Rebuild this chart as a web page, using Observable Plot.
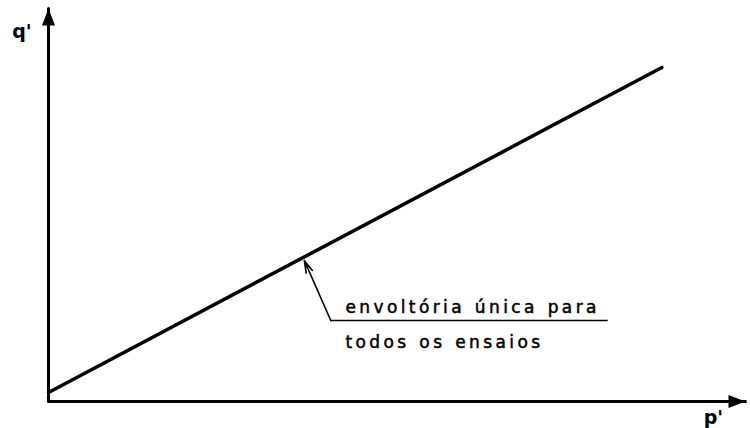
<!DOCTYPE html>
<html>
<head>
<meta charset="utf-8">
<script src="https://cdn.jsdelivr.net/npm/d3@7"></script>
<script src="https://cdn.jsdelivr.net/npm/@observablehq/plot@0.6"></script>
<style>
  html, body { margin: 0; padding: 0; background: #fff; }
  svg { display: block; }
  .ann-text text { letter-spacing: 3.4px; word-spacing: 1px; }
</style>
</head>
<body>
<div id="chart"></div>
<script>
// Axis extents (p', q' in arbitrary units)
const axisP = [0, 0, 100];
const axisQ = [100, 0, 0];

// Single failure envelope line
const envelopeP = [0, 88];
const envelopeQ = [2.3, 85];

// Annotation
const annotationLines = ["envoltória única para", "todos os ensaios"];
const annotationTailP = 40.5, annotationTailQ = 20.6;
const annotationHeadP = 36.7, annotationHeadQ = 35.9;
const underlineP = [40.5, 80.3];
const underlineQ = 20.6;
const textP = 42.6;
const textQ = [22.6, 13.7];

// Axis labels
const axisLabels = ["q'", "p'"];
const labelP = [-5.2, 94];
const labelQ = [92.6, -5.6];

const axisData = axisP.map((p, i) => ({p, q: axisQ[i]}));
const envData = envelopeP.map((p, i) => ({p, q: envelopeQ[i]}));
const textData = annotationLines.map((t, i) => ({t, p: textP, q: textQ[i]}));
const labelData = axisLabels.map((t, i) => ({t, p: labelP[i], q: labelQ[i]}));
const arrowTips = [
  {p: 0, q: 100, rotate: 0},
  {p: 100, q: 0, rotate: 90}
];

// narrow filled arrowhead with the tip at the anchor point
const headSymbol = {
  draw(context) {
    context.moveTo(0, 0);
    context.lineTo(6.5, 17);
    context.lineTo(-6.5, 17);
    context.closePath();
  }
};

const font = "'DejaVu Sans', sans-serif";

const chart = Plot.plot({
  width: 750,
  height: 428,
  marginLeft: 48,
  marginRight: 5,
  marginTop: 8,
  marginBottom: 27,
  x: {domain: [0, 100], axis: null},
  y: {domain: [0, 100], axis: null},
  style: {background: "#fff", fontFamily: font},
  marks: [
    Plot.line(axisData, {x: "p", y: "q", stroke: "#000", strokeWidth: 3, strokeLinejoin: "round"}),
    Plot.dot(arrowTips, {x: "p", y: "q", rotate: "rotate", symbol: headSymbol, fill: "#000", stroke: "none"}),
    Plot.line(envData, {x: "p", y: "q", stroke: "#000", strokeWidth: 3.5, strokeLinecap: "round"}),
    Plot.arrow([{}], {
      x1: () => annotationTailP, y1: () => annotationTailQ,
      x2: () => annotationHeadP, y2: () => annotationHeadQ,
      stroke: "#000", strokeWidth: 1.6, headLength: 12, headAngle: 30
    }),
    Plot.ruleY([underlineQ], {x1: underlineP[0], x2: underlineP[1], stroke: "#000", strokeWidth: 1.5}),
    Plot.text(textData, {
      x: "p", y: "q", text: "t", textAnchor: "start", lineAnchor: "bottom",
      fontSize: 17, fill: "#000", stroke: "#000", strokeWidth: 0.5,
      className: "ann-text"
    }),
    Plot.text(labelData, {
      x: "p", y: "q", text: "t", textAnchor: "start", lineAnchor: "bottom",
      fontSize: 19, fontWeight: "bold", fill: "#000"
    })
  ]
});

document.getElementById("chart").appendChild(chart);
</script>
</body>
</html>
